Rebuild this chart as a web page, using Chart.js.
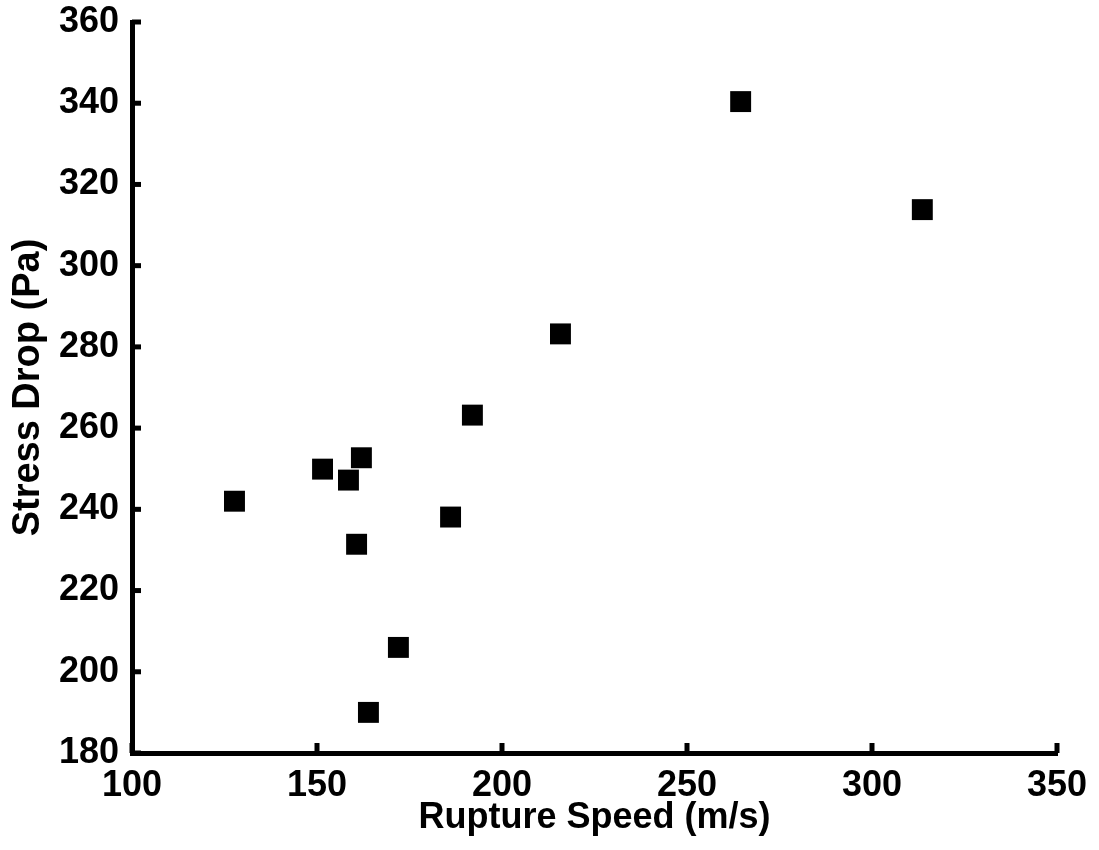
<!DOCTYPE html>
<html>
<head>
<meta charset="utf-8">
<script src="https://cdn.jsdelivr.net/npm/chart.js@4/dist/chart.umd.min.js"></script>
<style>
  html, body { margin: 0; padding: 0; background: #fff; }
  #wrap { width: 1099px; height: 850px; position: relative; }
</style>
</head>
<body>
<div id="wrap"><canvas id="c"></canvas></div>
<script>
// Data
const rupSpeed   = [127.7, 151.5, 158.5, 162.0, 160.7, 186.1, 192.0, 215.8, 264.5, 313.6, 172.0, 163.9];
const stressDrop = [242.0, 249.9, 247.2, 252.7, 231.4, 238.1, 263.2, 283.2, 340.4, 313.8, 206.0, 190.0];
const xTicks = [100, 150, 200, 250, 300, 350];
const yTicks = [180, 200, 220, 240, 260, 280, 300, 320, 340, 360];
const xTitle = 'Rupture Speed (m/s)';
const yTitle = 'Stress Drop (Pa)';

const points = rupSpeed.map((v, i) => ({ x: v, y: stressDrop[i] }));
const FONT = '"Liberation Sans", Arial, Helvetica, sans-serif';

// draw inward-pointing tick marks
const inwardTicks = {
  id: 'inwardTicks',
  afterDraw(chart) {
    const ctx = chart.ctx;
    const xs = chart.scales.x, ys = chart.scales.y;
    const ca = chart.chartArea;
    ctx.save();
    ctx.strokeStyle = '#000';
    ctx.lineWidth = 5;
    ctx.lineCap = 'butt';
    xTicks.forEach(t => {
      const px = xs.getPixelForValue(t);
      ctx.beginPath();
      ctx.moveTo(px, ca.bottom);
      ctx.lineTo(px, ca.bottom - 10);
      ctx.stroke();
    });
    yTicks.forEach(t => {
      const py = ys.getPixelForValue(t);
      ctx.beginPath();
      ctx.moveTo(ca.left, py);
      ctx.lineTo(ca.left + 9, py);
      ctx.stroke();
    });
    ctx.restore();
  }
};

new Chart(document.getElementById('c'), {
  type: 'scatter',
  data: {
    datasets: [{
      data: points,
      pointStyle: 'rect',
      pointRadius: 14.8,
      pointHoverRadius: 14.8,
      pointBackgroundColor: '#000',
      pointBorderColor: '#000',
      pointBorderWidth: 0,
      showLine: false
    }]
  },
  options: {
    responsive: true,
    maintainAspectRatio: false,
    animation: false,
    events: [],
    layout: { padding: { top: 22, right: 42, left: 0, bottom: 0 } },
    plugins: { legend: { display: false }, tooltip: { enabled: false } },
    scales: {
      x: {
        type: 'linear',
        min: 100, max: 350,
        afterBuildTicks(scale) { scale.ticks = xTicks.map(v => ({ value: v })); },
        afterFit(scale) { scale.height = 97; scale.paddingLeft = 0; scale.paddingRight = 0; },
        grid: { display: true, drawOnChartArea: false, drawTicks: false },
        border: { display: true, color: '#000', width: 5 },
        ticks: {
          color: '#000',
          padding: 11,
          font: { family: FONT, size: 36, weight: 'bold' },
          maxRotation: 0, autoSkip: false
        },
        title: {
          display: true, text: xTitle, color: '#000',
          font: { family: FONT, size: 36, weight: 'bold' },
          padding: { top: 0, bottom: 10 }
        }
      },
      y: {
        type: 'linear',
        min: 180, max: 360,
        afterBuildTicks(scale) { scale.ticks = yTicks.map(v => ({ value: v })); },
        afterFit(scale) { scale.width = 132; scale.paddingTop = 0; scale.paddingBottom = 0; },
        grid: { display: true, drawOnChartArea: false, drawTicks: false },
        border: { display: true, color: '#000', width: 5 },
        ticks: {
          color: '#000',
          padding: 13,
          font: { family: FONT, size: 36, weight: 'bold' },
          autoSkip: false
        },
        title: {
          display: true, text: yTitle, color: '#000',
          font: { family: FONT, size: 38, weight: 'bold' },
          padding: { top: 6, bottom: 0 }
        }
      }
    }
  },
  plugins: [inwardTicks]
});
</script>
</body>
</html>
